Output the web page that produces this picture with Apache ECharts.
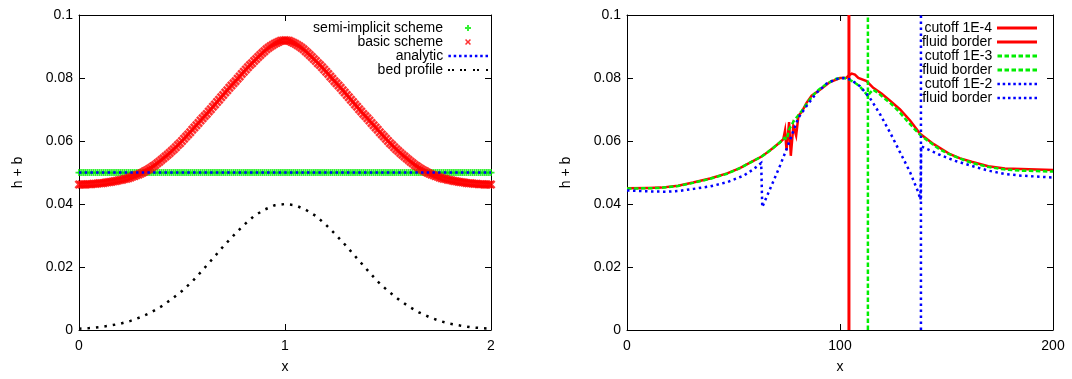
<!DOCTYPE html>
<html><head><meta charset="utf-8">
<script src="https://cdn.jsdelivr.net/npm/echarts@6/dist/echarts.min.js"></script>
<style>html,body{margin:0;padding:0;background:#fff}#c{width:1072px;height:379px}</style>
</head><body><div id="c"></div>
<script>
// ---------- left panel data ----------
const leftX = [0,0.01,0.02,0.03,0.04,0.05,0.06,0.07,0.08,0.09,
0.1,0.11,0.12,0.13,0.14,0.15,0.16,0.17,0.18,0.19,
0.2,0.21,0.22,0.23,0.24,0.25,0.26,0.27,0.28,0.29,
0.3,0.31,0.32,0.33,0.34,0.35,0.36,0.37,0.38,0.39,
0.4,0.41,0.42,0.43,0.44,0.45,0.46,0.47,0.48,0.49,
0.5,0.51,0.52,0.53,0.54,0.55,0.56,0.57,0.58,0.59,
0.6,0.61,0.62,0.63,0.64,0.65,0.66,0.67,0.68,0.69,
0.7,0.71,0.72,0.73,0.74,0.75,0.76,0.77,0.78,0.79,
0.8,0.81,0.82,0.83,0.84,0.85,0.86,0.87,0.88,0.89,
0.9,0.91,0.92,0.93,0.94,0.95,0.96,0.97,0.98,0.99,
1,1.01,1.02,1.03,1.04,1.05,1.06,1.07,1.08,1.09,
1.1,1.11,1.12,1.13,1.14,1.15,1.16,1.17,1.18,1.19,
1.2,1.21,1.22,1.23,1.24,1.25,1.26,1.27,1.28,1.29,
1.3,1.31,1.32,1.33,1.34,1.35,1.36,1.37,1.38,1.39,
1.4,1.41,1.42,1.43,1.44,1.45,1.46,1.47,1.48,1.49,
1.5,1.51,1.52,1.53,1.54,1.55,1.56,1.57,1.58,1.59,
1.6,1.61,1.62,1.63,1.64,1.65,1.66,1.67,1.68,1.69,
1.7,1.71,1.72,1.73,1.74,1.75,1.76,1.77,1.78,1.79,
1.8,1.81,1.82,1.83,1.84,1.85,1.86,1.87,1.88,1.89,
1.9,1.91,1.92,1.93,1.94,1.95,1.96,1.97,1.98,1.99,
2];
const semiImplicit = [0.05,0.05,0.05,0.05,0.05,0.05,0.05,0.05,0.05,0.05,
0.05,0.05,0.05,0.05,0.05,0.05,0.05,0.05,0.05,0.05,
0.05,0.05,0.05,0.05,0.05,0.05,0.05,0.05,0.05,0.05,
0.05,0.05,0.05,0.05,0.05,0.05,0.05,0.05,0.05,0.05,
0.05,0.05,0.05,0.05,0.05,0.05,0.05,0.05,0.05,0.05,
0.05,0.05,0.05,0.05,0.05,0.05,0.05,0.05,0.05,0.05,
0.05,0.05,0.05,0.05,0.05,0.05,0.05,0.05,0.05,0.05,
0.05,0.05,0.05,0.05,0.05,0.05,0.05,0.05,0.05,0.05,
0.05,0.05,0.05,0.05,0.05,0.05,0.05,0.05,0.05,0.05,
0.05,0.05,0.05,0.05,0.05,0.05,0.05,0.05,0.05,0.05,
0.05,0.05,0.05,0.05,0.05,0.05,0.05,0.05,0.05,0.05,
0.05,0.05,0.05,0.05,0.05,0.05,0.05,0.05,0.05,0.05,
0.05,0.05,0.05,0.05,0.05,0.05,0.05,0.05,0.05,0.05,
0.05,0.05,0.05,0.05,0.05,0.05,0.05,0.05,0.05,0.05,
0.05,0.05,0.05,0.05,0.05,0.05,0.05,0.05,0.05,0.05,
0.05,0.05,0.05,0.05,0.05,0.05,0.05,0.05,0.05,0.05,
0.05,0.05,0.05,0.05,0.05,0.05,0.05,0.05,0.05,0.05,
0.05,0.05,0.05,0.05,0.05,0.05,0.05,0.05,0.05,0.05,
0.05,0.05,0.05,0.05,0.05,0.05,0.05,0.05,0.05,0.05,
0.05,0.05,0.05,0.05,0.05,0.05,0.05,0.05,0.05,0.05,
0.05];
const basicScheme = [0.0462,0.0462,0.0462,0.0462,0.0463,0.0463,0.0463,0.0464,0.0464,0.0465,
0.0466,0.0466,0.0467,0.0468,0.0469,0.0470,0.0471,0.0472,0.0473,0.0475,
0.0476,0.0477,0.0479,0.0480,0.0482,0.0484,0.0487,0.0489,0.0492,0.0494,
0.0497,0.0500,0.0504,0.0507,0.0511,0.0515,0.0520,0.0524,0.0529,0.0534,
0.0540,0.0545,0.0551,0.0556,0.0562,0.0568,0.0574,0.0580,0.0587,0.0593,
0.0600,0.0607,0.0614,0.0621,0.0628,0.0636,0.0643,0.0650,0.0657,0.0665,
0.0672,0.0679,0.0686,0.0694,0.0701,0.0709,0.0716,0.0724,0.0731,0.0739,
0.0746,0.0754,0.0761,0.0769,0.0776,0.0783,0.0790,0.0798,0.0805,0.0813,
0.0820,0.0827,0.0834,0.0841,0.0847,0.0854,0.0860,0.0867,0.0873,0.0879,
0.0885,0.0891,0.0896,0.0901,0.0905,0.0909,0.0912,0.0915,0.0918,0.0919,
0.0920,
0.0919,0.0918,0.0915,0.0912,0.0909,0.0905,0.0901,0.0896,0.0891,0.0885,
0.0879,0.0873,0.0867,0.0860,0.0854,0.0847,0.0841,0.0834,0.0827,0.0820,
0.0813,0.0805,0.0798,0.0790,0.0783,0.0776,0.0769,0.0761,0.0754,0.0746,
0.0739,0.0731,0.0724,0.0716,0.0709,0.0701,0.0694,0.0686,0.0679,0.0672,
0.0665,0.0657,0.0650,0.0643,0.0636,0.0628,0.0621,0.0614,0.0607,0.0600,
0.0593,0.0587,0.0580,0.0574,0.0568,0.0562,0.0556,0.0551,0.0545,0.0540,
0.0534,0.0529,0.0524,0.0520,0.0515,0.0511,0.0507,0.0504,0.0500,0.0497,
0.0494,0.0492,0.0489,0.0487,0.0484,0.0482,0.0480,0.0479,0.0477,0.0476,
0.0475,0.0473,0.0472,0.0471,0.0470,0.0469,0.0468,0.0467,0.0466,0.0466,
0.0465,0.0464,0.0464,0.0463,0.0463,0.0463,0.0462,0.0462,0.0462,0.0462];
const analyticX = [0, 2];
const analyticY = [0.05, 0.05];
const bedX = [0,0.05,0.1,0.15,0.2,0.25,0.3,0.35,0.4,0.45,
0.5,0.55,0.6,0.65,0.7,0.75,0.8,0.85,0.9,0.95,
1,1.05,1.1,1.15,1.2,1.25,1.3,1.35,1.4,1.45,
1.5,1.55,1.6,1.65,1.7,1.75,1.8,1.85,1.9,1.95,2];
const bedProfile = [0.0004,0.0006,0.0009,0.0014,0.0020,0.0029,0.0041,0.0056,0.0075,0.0098,
0.0124,0.0154,0.0190,0.0227,0.0265,0.0300,0.0333,0.0362,0.0382,0.0396,
0.0400,
0.0396,0.0382,0.0362,0.0333,0.0300,0.0265,0.0227,0.0190,0.0154,0.0124,
0.0098,0.0075,0.0056,0.0041,0.0029,0.0020,0.0014,0.0009,0.0006,0.0004];

// ---------- right panel data ----------
const cut4X = [0,10,16,24,31,39,47,53,58,63,66,69,72,73.4,74.2,74.9,76.1,76.9,78.1,79.4,
80.5,82,84.3,86.7,90.6,95.3,100,103,104.5,105.5,107,108.6,112.5,115.6,119.6,123.5,128.2,132.9,137.6,144,
151.7,156.4,161.8,169.6,177.4,185,200];
const cut4Y = [0.0450,0.0451,0.0452,0.0458,0.0468,0.0481,0.0497,0.0514,0.0532,0.0550,0.0564,0.0580,0.0597,0.0606,0.0633,0.0571,0.0660,0.0553,0.0648,0.0617,
0.0681,0.0692,0.0721,0.0744,0.0763,0.0787,0.0800,0.0801,0.0810,0.0814,0.0811,0.0800,0.0790,0.0769,0.0750,0.0728,0.0700,0.0665,0.0623,0.0590,
0.0558,0.0545,0.0534,0.0520,0.0513,0.0511,0.0508];
const cut3X = [0,10,16,24,31,39,47,53,58,63,66,69,72,74,75,76,78,80,82,84,
86,88,90,93,96,98,100,102,104,106,108,110,112,113.1,114,115.5,118,120,124,128,
132,135,138,142,146,150,155,160,165,170,177,185,200];
const cut3Y = [0.0449,0.0450,0.0451,0.0457,0.0467,0.0480,0.0496,0.0514,0.0532,0.0550,0.0564,0.0580,0.0597,0.0610,0.0605,0.0635,0.0660,0.0678,0.0695,0.0714,
0.0733,0.0750,0.0763,0.0778,0.0790,0.0797,0.0800,0.0800,0.0796,0.0789,0.0780,0.0768,0.0752,0.0742,0.0752,0.0763,0.0752,0.0740,0.0718,0.0691,
0.0660,0.0638,0.0617,0.0597,0.0577,0.0562,0.0548,0.0535,0.0525,0.0517,0.0510,0.0506,0.0503];
const cut2X = [0,10,18.8,25,31.3,39.1,46.9,54.8,59.5,63,63.5,71.8,74.9,78.1,80.5,84.3,89,93.7,98.4,101.6,
105,109.4,114,118.8,123.5,128.2,132.9,136.7,137.8,138.1,146.2,154,161.8,169.6,177.4,185.2,200];
const cut2Y = [0.0443,0.0440,0.0439,0.0442,0.0448,0.0456,0.0469,0.0490,0.0511,0.0530,0.0390,0.0521,0.0574,0.0632,0.0674,0.0711,0.0753,0.0782,0.0797,0.0800,
0.0795,0.0774,0.0737,0.0685,0.0627,0.0564,0.0501,0.0438,0.0413,0.0583,0.0558,0.0537,0.0521,0.0506,0.0495,0.0490,0.0484];
const borderX = [104.2, 113.1, 138.0];
const borderY = [0, 0.1];

const yTicks = { min: 0, max: 0.1, interval: 0.02 };

// ---------- chart ----------
const FONT = 'Liberation Sans, Arial, Helvetica, sans-serif';
const pairs = (xs, ys) => xs.map((x, i) => [x, ys[i]]);
const vline = (x) => borderY.map(y => [x, y]);

const plusPath = 'path://M3,0h2v3h3v2h-3v3h-2v-3h-3v-2h3z';
const crossPath = 'path://M0,1.6L1.6,0L4,2.4L6.4,0L8,1.6L5.6,4L8,6.4L6.4,8L4,5.6L1.6,8L0,6.4L2.4,4z';
// legend icons: 40px wide boxes with the marker centred (degenerate end points fix the box)
const plusIcon = 'path://M0,4L0,4Z M40,4L40,4Z M19,1h2v2h2v2h-2v2h-2v-2h-2v-2h2z';
const crossIcon = 'path://M0,4L0,4Z M40,4L40,4Z M17,2.1L18.1,1L20,2.9L21.9,1L23,2.1L21.1,4L23,5.9L21.9,7L20,5.1L18.1,7L17,5.9L18.9,4Z';
const solidIcon = 'path://M0,0H40V3H0Z';
const dashIcon = 'path://M0,0h4.5v3h-4.5z M7,0h4.5v3h-4.5z M14,0h4.5v3h-4.5z M21,0h4.5v3h-4.5z M28,0h4.5v3h-4.5z M35,0h4.5v3h-4.5z';
const dotIcon = 'path://M0,0h2.5v2.5h-2.5z M5.3,0h2.5v2.5h-2.5z M10.6,0h2.5v2.5h-2.5z M15.9,0h2.5v2.5h-2.5z M21.2,0h2.5v2.5h-2.5z M26.5,0h2.5v2.5h-2.5z M31.8,0h2.5v2.5h-2.5z M37.1,0h2.5v2.5h-2.5z';
const bedIcon = 'path://M0,0h2v2h-2z M4,0h2v2h-2z M12,0h2v2h-2z M16,0h2v2h-2z M25,0h2v2h-2z M29,0h2v2h-2z M38,0h2v2h-2z';

const txt = { color: '#000', fontSize: 14, fontFamily: FONT };

function xAxes(grid, max, interval) {
  return [
    { gridIndex: grid, type: 'value', min: 0, max: max, interval: interval, position: 'bottom',
      name: 'x', nameLocation: 'middle', nameGap: 30, nameTextStyle: txt,
      axisLine: { show: true, onZero: false, lineStyle: { color: '#000', width: 1 } },
      axisTick: { show: true, inside: true, length: 6, lineStyle: { color: '#000' } },
      axisLabel: Object.assign({ margin: 9 }, txt), splitLine: { show: false } },
    { gridIndex: grid, type: 'value', min: 0, max: max, interval: interval, position: 'top',
      axisLine: { show: true, onZero: false, lineStyle: { color: '#000', width: 1 } },
      axisTick: { show: true, inside: true, length: 6, lineStyle: { color: '#000' } },
      axisLabel: { show: false }, splitLine: { show: false } }
  ];
}
function yAxes(grid) {
  return [
    { gridIndex: grid, type: 'value', min: yTicks.min, max: yTicks.max, interval: yTicks.interval, position: 'left',
      name: 'h + b', nameLocation: 'middle', nameGap: 54, nameRotate: 90, nameTextStyle: txt,
      axisLine: { show: true, onZero: false, lineStyle: { color: '#000', width: 1 } },
      axisTick: { show: true, inside: true, length: 6, lineStyle: { color: '#000' } },
      axisLabel: Object.assign({ margin: 6, formatter: v => v === 0 ? '0' : String(+v.toFixed(2)) }, txt),
      splitLine: { show: false } },
    { gridIndex: grid, type: 'value', min: yTicks.min, max: yTicks.max, interval: yTicks.interval, position: 'right',
      axisLine: { show: true, onZero: false, lineStyle: { color: '#000', width: 1 } },
      axisTick: { show: true, inside: true, length: 6, lineStyle: { color: '#000' } },
      axisLabel: { show: false }, splitLine: { show: false } }
  ];
}

function lg(name, icon, w, h, top, right) {
  return {
    data: [{ name: name, icon: icon }], itemWidth: w, itemHeight: h, top: top, right: right,
    padding: 0, align: 'right', orient: 'horizontal', selectedMode: false,
    textStyle: Object.assign({ lineHeight: 14 }, txt), itemStyle: { borderWidth: 0 },
    formatter: n => n.replace(/ \(.*\)$/, '')
  };
}

const lineS = (name, xi, yi, data, color, type, width, z) => ({
  name: name, type: 'line', xAxisIndex: xi, yAxisIndex: yi, data: data,
  symbol: 'none', showSymbol: false, silent: true, z: z || 2,
  itemStyle: { color: color },
  lineStyle: { color: color, width: width, type: type, cap: 'butt', join: 'miter' }
});

const option = {
  animation: false,
  backgroundColor: '#fff',
  grid: [
    { left: 79, top: 15, width: 412, height: 317 },
    { left: 627, top: 15, width: 426, height: 317 }
  ],
  xAxis: xAxes(0, 2, 1).concat(xAxes(1, 200, 100)),
  yAxis: yAxes(0).concat(yAxes(1)),
  legend: [
    lg('semi-implicit scheme', plusIcon, 40, 6, 21, 584),
    lg('basic scheme', crossIcon, 40, 6, 35, 584),
    lg('analytic', dotIcon, 40, 2.5, 49, 584),
    lg('bed profile', bedIcon, 40, 2, 63, 584),
    lg('cutoff 1E-4', solidIcon, 40, 3, 21, 35),
    lg('fluid border (1E-4)', solidIcon, 40, 3, 35, 35),
    lg('cutoff 1E-3', dashIcon, 40, 3, 49, 35),
    lg('fluid border (1E-3)', dashIcon, 40, 3, 63, 35),
    lg('cutoff 1E-2', dotIcon, 40, 2.5, 77, 35),
    lg('fluid border (1E-2)', dotIcon, 40, 2.5, 91, 35)
  ],
  series: [
    { name: 'semi-implicit scheme', type: 'scatter', xAxisIndex: 0, yAxisIndex: 0,
      data: pairs(leftX, semiImplicit), symbol: plusPath, symbolSize: 7, clip: false, silent: true, z: 2,
      itemStyle: { color: '#00ee00' } },
    { name: 'basic scheme', type: 'scatter', xAxisIndex: 0, yAxisIndex: 0,
      data: pairs(leftX, basicScheme), symbol: crossPath, symbolSize: 9, clip: false, silent: true, z: 3,
      itemStyle: { color: '#ff0000' } },
    lineS('analytic', 0, 0, pairs(analyticX, analyticY), '#0000ff', [2.5, 3.2], 2.5, 4),
    lineS('bed profile', 0, 0, pairs(bedX, bedProfile), '#000000', [2.5, 6], 2.5, 4),

    lineS('cutoff 1E-4', 2, 2, pairs(cut4X, cut4Y), '#ff0000', 'solid', 2.5, 3),
    lineS('fluid border (1E-4)', 2, 2, vline(borderX[0]), '#ff0000', 'solid', 3, 3),
    lineS('cutoff 1E-3', 2, 2, pairs(cut3X, cut3Y), '#00ee00', [4.5, 2.5], 2.5, 4),
    lineS('fluid border (1E-3)', 2, 2, vline(borderX[1]), '#00ee00', [4.5, 2.5], 2.5, 4),
    lineS('cutoff 1E-2', 2, 2, pairs(cut2X, cut2Y), '#0000ff', [2.5, 3.5], 2.5, 5),
    lineS('fluid border (1E-2)', 2, 2, vline(borderX[2]), '#0000ff', [2.5, 3.5], 2.5, 5)
  ]
};

const chart = echarts.init(document.getElementById('c'), null, { renderer: 'canvas' });
chart.setOption(option);
</script>
</body></html>
